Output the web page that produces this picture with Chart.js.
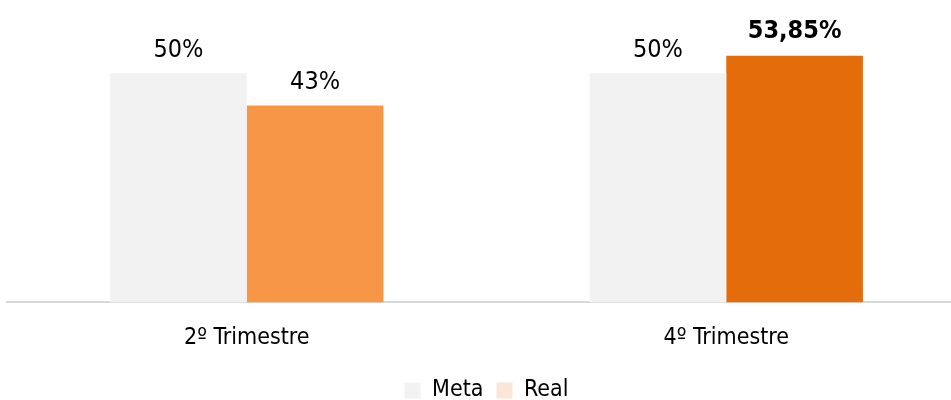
<!DOCTYPE html>
<html>
<head>
<meta charset="utf-8">
<script src="https://cdn.jsdelivr.net/npm/chart.js@4.4.0/dist/chart.umd.min.js"></script>
<style>
  html, body { margin: 0; padding: 0; background: #fff; overflow: hidden; }
  #wrap { width: 966px; height: 400px; position: relative; }
</style>
</head>
<body>
<div id="wrap"><canvas id="myChart"></canvas></div>
<script>
var categories = ["2º Trimestre", "4º Trimestre"];
var metaValues = [50, 50];
var realValues = [43, 53.85];
var metaLabels = ["50%", "50%"];
var realLabels = ["43%", "53,85%"];
var realBold = [false, true];

var fontName = "'Liberation Sans Narrow', 'Arial Narrow', 'DejaVu Sans Condensed', sans-serif";

// writes the percentage above every bar
var barLabels = {
    id: "barLabels",
    afterDatasetsDraw: function (chart) {
        var ctx = chart.ctx;
        ctx.save();
        ctx.textAlign = "center";
        ctx.textBaseline = "alphabetic";
        ctx.fillStyle = "#000";
        chart.data.datasets.forEach(function (ds, i) {
            var meta = chart.getDatasetMeta(i);
            meta.data.forEach(function (bar, j) {
                var bold = i == 1 && realBold[j];
                ctx.font = (bold ? "bold " : "") + "25px " + fontName;
                var txt = i == 0 ? metaLabels[j] : realLabels[j];
                ctx.fillText(txt, bar.x, bar.y - (bold ? 18 : 16));
            });
        });
        ctx.restore();
    }
};

new Chart("myChart", {
    type: "bar",
    data: {
        labels: categories,
        datasets: [{
            label: "Meta",
            data: metaValues,
            backgroundColor: "#f2f2f2",
            categoryPercentage: 0.57,
            barPercentage: 1.0
        }, {
            label: "Real",
            data: realValues,
            backgroundColor: ["#f79646", "#e46c0a"],
            categoryPercentage: 0.57,
            barPercentage: 1.0
        }]
    },
    plugins: [barLabels],
    options: {
        responsive: true,
        maintainAspectRatio: false,
        animation: false,
        layout: { padding: { left: 7, right: 0, top: 0, bottom: -12 } },
        plugins: {
            tooltip: { enabled: false },
            legend: {
                position: "bottom",
                labels: {
                    boxWidth: 16,
                    boxHeight: 16,
                    padding: 13,
                    color: "#000",
                    font: { family: fontName, size: 23 },
                    generateLabels: function (chart) {
                        var fills = ["#f2f2f2", "#fbe5d6"];
                        return chart.data.datasets.map(function (ds, i) {
                            return {
                                text: ds.label,
                                fillStyle: fills[i],
                                strokeStyle: fills[i],
                                lineWidth: 0,
                                datasetIndex: i,
                                fontColor: "#000"
                            };
                        });
                    }
                }
            }
        },
        scales: {
            x: {
                grid: { display: false },
                border: { display: true, color: "#d9d9d9", width: 2 },
                ticks: {
                    color: "#000",
                    padding: 14,
                    font: { family: fontName, size: 23 }
                }
            },
            y: {
                display: false,
                min: 0,
                max: 66
            }
        }
    }
});
</script>
</body>
</html>
